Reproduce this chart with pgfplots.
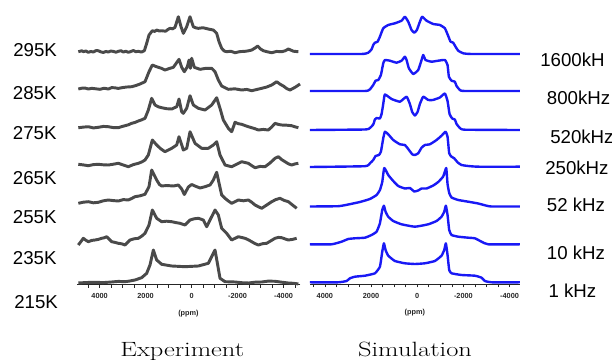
\documentclass[border=0pt]{standalone}
\usepackage{fontspec}
\usepackage{graphicx}
\usepackage{pgfplots}
\pgfplotsset{compat=1.18}
\newfontfamily\sansf{Liberation Sans}
\definecolor{expgray}{RGB}{74,74,74}
\definecolor{simblue}{RGB}{25,25,245}
\pgfplotsset{
  spec/.style={
    scale only axis, clip=false, x dir=reverse,
    separate axis lines, axis x line=bottom, axis y line=none,
    x axis line style={-, line width=0.5pt, black!85},
    ytick=\empty,
    xtick={-4000,-2000,0,2000,4000},
    xticklabels={-4000,-2000,0,2000,4000},
    minor xtick={-4500,-3500,-3000,-2500,-1500,-1000,-500,500,1000,1500,2500,3000,3500,4500},
    tick align=outside, major tick length=2.5pt, minor tick length=2.5pt,
    tick style={black!85, line width=0.5pt},
    xticklabel style={font=\sansf\bfseries\fontsize{5.5}{6}\selectfont, yshift=-1pt, text=black!85},
    xlabel={(ppm)},
    xlabel style={font=\sansf\bfseries\fontsize{5.5}{6}\selectfont, at={(axis description cs:0.5,0)}, anchor=center, yshift=-21.5pt, text=black!85},
  },
  exp/.style={expgray, line width=2.2pt, line join=round, no markers},
  sim/.style={simblue, line width=1.8pt, line join=round, no markers, smooth, tension=0.25},
}
\begin{document}
\begin{tikzpicture}
\path[use as bounding box] (0,0) rectangle (459pt,270pt);

% ---------------- Experiment ----------------
\begin{axis}[spec, at={(57.45pt,56.625pt)}, anchor=south west,
  width=167.8pt, height=205.1pt, xmin=-4730, xmax=5000, ymin=-1.5, ymax=272]
% 295K
\addplot[exp] coordinates {(4925,231.3) (4780,232.2) (4707,231.4) (4600,232) (4490,230.7) (4380,231.6) (4272,231) (4160,232.4) (4055,232.3) (3950,231.2) (3837,230.5) (3730,231.6) (3620,231) (3510,232) (3402,231.6) (3290,230.8) (3185,231.7) (3070,232.3) (2967,231) (2860,231.8) (2750,230.7) (2640,231.5) (2532,232.5) (2420,231.3) (2315,231.7) (2180,231) (2054,232.3) (1952,239.7) (1851,248) (1706,252.3) (1600,251.6) (1517,253) (1400,252) (1300,252.3) (1126,251.8) (1030,253.5) (937,254.7) (820,254.2) (720,255.7) (575,266.3) (459,256.3) (357,249.7) (212,256.3) (67,266.3) (-77,256.3) (-180,255.2) (-295,254.7) (-500,255.3) (-730,254) (-947,253) (-1092,249.7) (-1194,241.3) (-1310,234.7) (-1420,232) (-1527,231.3) (-1700,231.8) (-1890,230.3) (-2100,231.4) (-2325,231.7) (-2470,232.2) (-2615,233) (-2760,235) (-2876,237) (-3000,234) (-3122,232.3) (-3300,231.2) (-3485,230.3) (-3700,231.6) (-3920,231.3) (-4065,232.2) (-4210,234) (-4430,231.8) (-4645,231.3)};
% 285K
\addplot[exp] coordinates {(4925,194) (4780,194.8) (4635,195) (4490,194) (4345,194.7) (4160,194.2) (3982,193.7) (3800,194.8) (3620,194) (3475,195.4) (3330,195.2) (3185,194.6) (3040,195.3) (2820,196) (2605,196.3) (2420,197.5) (2242,199) (2025,201.3) (1851,211.3) (1706,218) (1580,216.8) (1445,215.7) (1300,214.6) (1155,213) (970,214.5) (792,215.7) (546,223.7) (430,215.7) (314,211.3) (183,216.3) (111,223) (53,214.7) (-5,224.7) (-121,215.7) (-367,213.7) (-600,214.6) (-875,214.7) (-1020,211.3) (-1165,203) (-1310,197) (-1600,193.7) (-1890,194.2) (-2180,193) (-2400,193.6) (-2615,192.3) (-2830,193.5) (-3050,194.7) (-3270,196) (-3485,198) (-3702,201.3) (-3850,198.8) (-3992,197) (-4140,194.4) (-4282,193) (-4500,195.7) (-4717,199)};
% 275K
\addplot[exp] coordinates {(4925,155.3) (4707,155.9) (4490,156.3) (4272,155.1) (4055,155.7) (3837,156.6) (3620,156.3) (3400,155.4) (3185,155.3) (3040,156.4) (2895,157.3) (2750,158.2) (2605,159.7) (2460,160.6) (2315,162) (2170,163.2) (2025,164.7) (1880,173) (1735,184.7) (1590,178) (1445,176.2) (1300,175.3) (1080,174.3) (865,174) (647,176.3) (546,184) (430,171.3) (357,169.7) (212,174.7) (67,187.3) (-77,178) (-295,174.7) (-585,173) (-875,178) (-1092,185.3) (-1237,174.7) (-1382,163) (-1600,154.7) (-1745,151.3) (-1890,160.7) (-2035,159.3) (-2180,158.7) (-2400,156.8) (-2615,155.3) (-2760,154.3) (-2905,153) (-3120,153.6) (-3340,153) (-3485,156) (-3630,159.7) (-3775,158.6) (-3920,158) (-4140,157.8) (-4355,157.3) (-4500,156.2) (-4645,155.3)};
% 265K
\addplot[exp] coordinates {(4925,118.7) (4707,118.1) (4490,117.3) (4272,118.4) (4055,118.7) (3837,118.2) (3620,118) (3400,118.8) (3185,119.7) (2967,118) (2750,116.3) (2532,118.4) (2315,119.7) (2170,121) (2025,123) (1880,128) (1706,143) (1517,138) (1340,134.2) (1155,131.3) (1010,133) (865,134.7) (647,138) (546,146.3) (357,133) (212,134.7) (67,151.3) (-150,139.7) (-440,134.7) (-730,134.7) (-947,138) (-1092,141.3) (-1237,128) (-1455,118) (-1600,117.1) (-1745,116.3) (-1960,118.8) (-2180,121.3) (-2470,119.7) (-2615,117.4) (-2760,115.3) (-2980,116.6) (-3195,116.3) (-3410,120) (-3630,124.7) (-3775,126.3) (-3920,123.4) (-4065,121.3) (-4210,119.2) (-4355,118) (-4500,119.1) (-4645,119.7)};
% 255K
\addplot[exp] coordinates {(4925,79.7) (4707,80.8) (4490,81.3) (4272,80.2) (4055,80.7) (3837,82.2) (3620,83) (3400,82.4) (3185,82) (2967,83.4) (2750,83) (2600,84.6) (2460,86.3) (2240,87.2) (2025,88.7) (1851,96.3) (1735,113) (1517,103) (1400,98.6) (1300,97) (1082,97.5) (792,97) (575,98) (430,94) (314,88.5) (140,96) (-5,98.5) (-150,97) (-367,95) (-585,96.3) (-802,98) (-947,103) (-1092,110.7) (-1194,100) (-1310,88) (-1455,84.7) (-1600,82) (-1745,79.7) (-2035,83) (-2250,82.2) (-2470,83) (-2615,80.8) (-2760,78) (-2905,76.3) (-3050,74.7) (-3270,78) (-3485,81.3) (-3660,83.4) (-3847,84.7) (-4030,82.6) (-4210,81.3) (-4390,78) (-4572,74.7)};
% 235K
\addplot[exp] coordinates {(4925,38) (4810,41.5) (4707,44.7) (4600,42.8) (4490,41.3) (4340,42.6) (4200,43) (4055,43.6) (3910,44.7) (3800,45.2) (3692,46.3) (3580,43.8) (3475,41.3) (3330,40.6) (3185,39.7) (3040,39.2) (2895,38) (2780,40.6) (2677,43) (2500,44.2) (2315,44.7) (2170,46.8) (2025,49.7) (1851,58) (1706,73) (1517,64.7) (1300,61.3) (1080,61.8) (865,61.3) (680,60.4) (502,59.7) (285,58) (67,63) (-110,64.2) (-295,64.7) (-512,63) (-657,56.3) (-802,63) (-1020,73) (-1165,68) (-1310,54.7) (-1527,49.7) (-1745,43) (-2035,46.3) (-2325,44.7) (-2470,43.2) (-2615,41.3) (-2760,39.4) (-2905,38) (-3090,39.3) (-3267,39.7) (-3450,42.2) (-3630,44.7) (-3780,45.6) (-3920,45.3) (-4065,44.1) (-4210,43) (-4390,43.6) (-4572,44.7)};
% 215K
\addplot[exp] coordinates {(4925,0) (4560,0.5) (4200,0.7) (3840,0.4) (3475,1) (3180,1.6) (2895,1.3) (2680,2) (2460,3) (2170,5.3) (1952,9.7) (1807,18) (1662,33) (1517,23) (1300,18.7) (865,17) (285,16.3) (-295,17) (-730,19.7) (-947,29.7) (-1020,33) (-1136,18) (-1237,4.7) (-1455,1.3) (-1890,1) (-2180,0.3) (-2470,0) (-2760,0.8) (-3050,1) (-3340,1.9) (-3630,1.7) (-3920,0.8) (-4210,0) (-4430,-0.3) (-4645,-1)};
\end{axis}

% ---------------- Simulation ----------------
\begin{axis}[spec, at={(232.4pt,57pt)}, anchor=south west,
  width=157.6pt, height=204pt, xmin=-4450, xmax=4650, ymin=0, ymax=272]
% 1600 kHz
\addplot[sim] coordinates {(4647,230) (2410,230) (2121,231.3) (1977,234.7) (1905,239) (1833,241.3) (1717,242.3) (1616,247.3) (1472,255.7) (1256,259) (967,260.7) (678,263.3) (534,267.3) (390,262.3) (245,254) (130,251.3) (15,254) (-115,262.3) (-216,267.3) (-404,263.3) (-692,260) (-981,259) (-1198,255.7) (-1342,248) (-1443,242.3) (-1558,241.3) (-1659,237.3) (-1775,233.3) (-1991,230.7) (-2352,230) (-4444,230)};
% 800 kHz
\addplot[sim] coordinates {(4647,193) (2266,193) (2049,194.7) (1905,199) (1804,203.3) (1688,204) (1573,209) (1472,220.7) (1400,224) (1184,223.3) (895,221.3) (678,223.3) (534,227.3) (462,224) (361,215.7) (173,210) (-43,214) (-188,224) (-260,229) (-361,224) (-620,222.3) (-909,223.3) (-1198,224) (-1313,219) (-1371,207.3) (-1486,203.3) (-1630,202.3) (-1703,198) (-1847,194) (-2063,193) (-4444,193)};
% 520 kHz
\addplot[sim] coordinates {(4647,154) (2266,154.5) (2049,156) (1905,159.5) (1833,164.5) (1761,166) (1616,165.5) (1544,170) (1472,180) (1400,189.5) (1111,185) (750,182.3) (462,187.3) (318,180) (217,172) (101,168.5) (-14,172) (-115,180) (-260,187.3) (-476,184) (-678,184) (-981,186.5) (-1198,190.5) (-1313,183) (-1400,170) (-1515,165.5) (-1630,164.5) (-1703,160) (-1847,156) (-2063,154.3) (-4444,154)};
% 250 kHz
\addplot[sim] coordinates {(4647,117) (2266,117.8) (2049,120.7) (1905,124) (1804,128) (1660,129) (1573,132.3) (1472,145.7) (1400,152.3) (1256,149.7) (1039,144) (750,139.7) (534,139) (390,135) (217,129.7) (101,129) (-43,130.7) (-188,136.3) (-332,139) (-548,139.7) (-837,144) (-1053,148.3) (-1226,152.3) (-1313,147.3) (-1385,130.7) (-1486,127.3) (-1601,125.7) (-1746,121.7) (-1919,119) (-2208,118) (-2640,117.3) (-4444,117.3)};
% 52 kHz
\addplot[sim] coordinates {(4647,77.5) (3420,77.8) (2987,79.5) (2482,82) (2049,85) (1761,89) (1616,94) (1515,102) (1429,116) (1256,109) (1039,103) (823,98) (534,95.5) (318,96) (130,92.5) (-43,93.5) (-188,95.5) (-404,95.5) (-692,98.5) (-909,102) (-1125,107.5) (-1255,116) (-1313,100) (-1385,91) (-1486,86.5) (-1775,84) (-2208,82.3) (-2640,80.5) (-3001,78.3) (-3217,77.5) (-4444,77.5)};
% 10 kHz
\addplot[sim] coordinates {(4647,39.7) (3709,39.7) (3276,42.3) (2987,45) (2699,45.7) (2266,46.3) (1977,49) (1761,52.3) (1616,60.7) (1515,74) (1443,78.3) (1371,72.3) (1256,67.3) (1039,63) (678,59.7) (101,57.3) (-476,59.7) (-837,63) (-1053,67.3) (-1169,72.3) (-1241,78.3) (-1313,69) (-1385,54) (-1486,49) (-1775,47.3) (-2208,46.3) (-2496,45.7) (-2785,42.3) (-3073,39.7) (-4444,39.7)};
% 1 kHz
\addplot[sim] coordinates {(4647,1.7) (3420,1.7) (3059,3) (2915,5.7) (2699,7.3) (2266,8.3) (1833,10.7) (1616,17.3) (1515,32.3) (1443,40.7) (1371,34) (1256,28.3) (967,23) (534,20.7) (101,20) (-332,20.7) (-765,23) (-1053,28.3) (-1169,34) (-1241,40.7) (-1313,29) (-1385,14) (-1486,10.7) (-1919,9) (-2496,8.3) (-2785,6.3) (-2929,3) (-3217,1.7) (-4444,1.7)};
\end{axis}

% ---------------- labels ----------------
\begin{scope}[every node/.style={inner sep=0pt, font=\sansf\fontsize{14}{16}\selectfont}]
\node[anchor=base west] at (9.75pt,227.5pt) {295K};
\node[anchor=base west] at (9.5pt,195pt) {285K};
\node[anchor=base west] at (9.5pt,165pt) {275K};
\node[anchor=base west] at (9.5pt,131.25pt) {265K};
\node[anchor=base west] at (9.5pt,102.5pt) {255K};
\node[anchor=base west] at (9.5pt,71.8pt) {235K};
\node[anchor=base west] at (10.5pt,38.8pt) {215K};
\node[anchor=base west] at (405pt,220pt) {1600kH};
\node[anchor=base west] at (410pt,191.25pt) {800kHz};
\node[anchor=base west] at (412.5pt,162.5pt) {520kHz};
\node[anchor=base west] at (408.75pt,138.75pt) {250kHz};
\node[anchor=base west] at (410pt,111.2pt) {52 kHz};
\node[anchor=base west] at (410pt,75.5pt) {10 kHz};
\node[anchor=base west] at (411.2pt,47pt) {1 kHz};
\end{scope}
\node[anchor=base, inner sep=0pt] at (136.7pt,2.5pt) {\scalebox{1.28}[1]{\fontsize{15.5}{16}\selectfont Experiment}};
\node[anchor=base, inner sep=0pt] at (311.25pt,2.5pt) {\scalebox{1.28}[1]{\fontsize{15.5}{16}\selectfont Simulation}};
\end{tikzpicture}
\end{document}
